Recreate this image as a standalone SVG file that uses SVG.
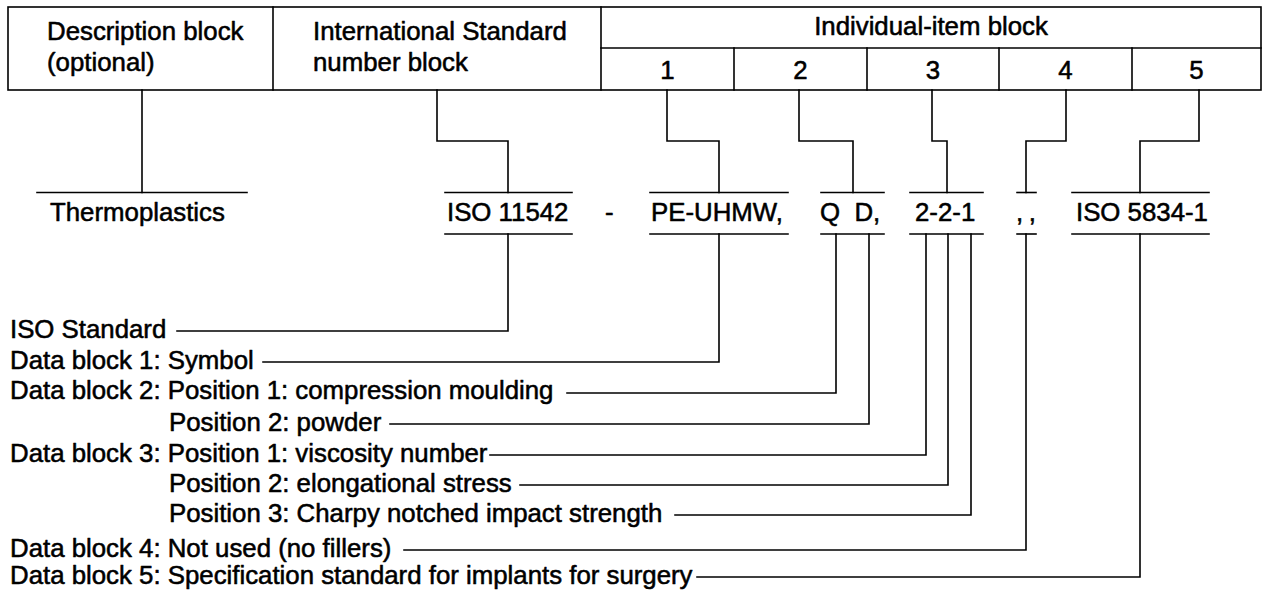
<svg xmlns="http://www.w3.org/2000/svg" width="1263" height="593" viewBox="0 0 1263 593">
<style>
.t{font-family:"Liberation Sans",Arial,Helvetica,sans-serif;font-size:25.8px;fill:#000;stroke:#000;stroke-width:0.55;stroke-linejoin:round}
.c{text-anchor:middle}
.l{stroke:#000;stroke-width:1.6;fill:none;stroke-linecap:square}
</style>
<rect width="1263" height="593" fill="#fff"/>
<g id="table">
<rect class="l" x="8" y="7" width="1253" height="83"/>
<line class="l" x1="273" y1="7" x2="273" y2="90"/>
<line class="l" x1="601" y1="7" x2="601" y2="90"/>
<line class="l" x1="601" y1="48" x2="1261" y2="48"/>
<line class="l" x1="734" y1="48" x2="734" y2="90"/>
<line class="l" x1="867" y1="48" x2="867" y2="90"/>
<line class="l" x1="999" y1="48" x2="999" y2="90"/>
<line class="l" x1="1132" y1="48" x2="1132" y2="90"/>
</g>
<g id="hdr-description"><text class="t" x="47" y="40">Description block</text><text class="t" x="47" y="71">(optional)</text></g>
<g id="hdr-standard"><text class="t" x="313" y="40">International Standard</text><text class="t" x="313" y="71">number block</text></g>
<g id="hdr-individual"><text class="t c" x="931" y="35">Individual-item block</text></g>
<g id="hdr-1"><text class="t c" x="667.5" y="79">1</text></g>
<g id="hdr-2"><text class="t c" x="800.5" y="79">2</text></g>
<g id="hdr-3"><text class="t c" x="933" y="79">3</text></g>
<g id="hdr-4"><text class="t c" x="1065.5" y="79">4</text></g>
<g id="hdr-5"><text class="t c" x="1196.5" y="79">5</text></g>

<g id="code-thermoplastics"><line class="l" x1="37" y1="192.5" x2="247" y2="192.5"/><text class="t" x="50" y="221">Thermoplastics</text></g>
<g id="code-iso11542"><line class="l" x1="445" y1="192.5" x2="572" y2="192.5"/><text class="t" x="447" y="221">ISO 11542</text><line class="l" x1="445" y1="234" x2="572" y2="234"/></g>
<g id="code-dash"><text class="t" x="605" y="221">-</text></g>
<g id="code-pe"><line class="l" x1="650" y1="192.5" x2="788" y2="192.5"/><text class="t" x="651" y="221">PE-UHMW,</text><line class="l" x1="650" y1="234" x2="788" y2="234"/></g>
<g id="code-qd"><line class="l" x1="821" y1="192.5" x2="884" y2="192.5"/><text class="t" x="820" y="221" xml:space="preserve">Q  D,</text><line class="l" x1="821" y1="234" x2="884" y2="234"/></g>
<g id="code-221"><line class="l" x1="910" y1="192.5" x2="983" y2="192.5"/><text class="t" x="915" y="221">2-2-1</text><line class="l" x1="910" y1="234" x2="983" y2="234"/></g>
<g id="code-commas"><line class="l" x1="1017" y1="192.5" x2="1036" y2="192.5"/><text class="t" x="1016" y="221" letter-spacing="5.5">,,</text><line class="l" x1="1017" y1="234" x2="1036" y2="234"/></g>
<g id="code-iso5834"><line class="l" x1="1072" y1="192.5" x2="1209" y2="192.5"/><text class="t" x="1076" y="221">ISO 5834-1</text><line class="l" x1="1072" y1="234" x2="1209" y2="234"/></g>

<g id="label-iso"><text class="t" x="10" y="338">ISO Standard</text></g>
<g id="label-db1"><text class="t" x="10" y="369">Data block 1: Symbol</text></g>
<g id="label-db2p1"><text class="t" x="10" y="399">Data block 2: Position 1: compression moulding</text></g>
<g id="label-db2p2"><text class="t" x="169" y="431">Position 2: powder</text></g>
<g id="label-db3p1"><text class="t" x="10" y="462">Data block 3: Position 1: viscosity number</text></g>
<g id="label-db3p2"><text class="t" x="169" y="492">Position 2: elongational stress</text></g>
<g id="label-db3p3"><text class="t" x="169" y="522">Position 3: Charpy notched impact strength</text></g>
<g id="label-db4"><text class="t" x="10" y="557">Data block 4: Not used (no fillers)</text></g>
<g id="label-db5"><text class="t" x="10" y="584">Data block 5: Specification standard for implants for surgery</text></g>

<g id="connectors">
<path class="l" d="M142 90V192.5"/>
<path class="l" d="M437 90V141H508V192.5"/>
<path class="l" d="M667 90V141H719V192.5"/>
<path class="l" d="M799 90V141H853V192.5"/>
<path class="l" d="M932 90V141H947V192.5"/>
<path class="l" d="M1066 90V141H1026V192.5"/>
<path class="l" d="M1199 90V141H1140V192.5"/>
<path class="l" d="M508 234V331H177"/>
<path class="l" d="M719 234V362H263"/>
<path class="l" d="M836 234V393H567"/>
<path class="l" d="M869 234V424H390"/>
<path class="l" d="M926 234V455H490"/>
<path class="l" d="M948 234V485H520"/>
<path class="l" d="M971 234V515H675"/>
<path class="l" d="M1026 234V550H404"/>
<path class="l" d="M1140 234V577H697"/>
</g>
</svg>
